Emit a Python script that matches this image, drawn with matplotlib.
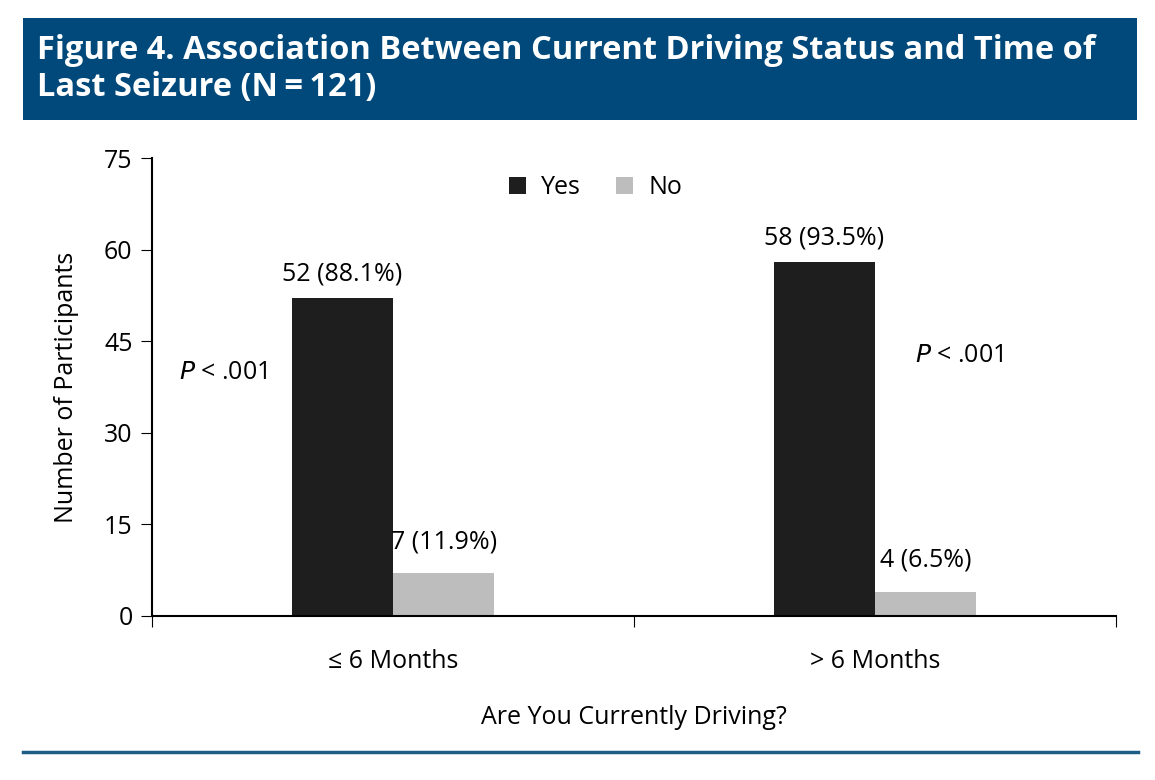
import numpy as np
import matplotlib.pyplot as plt
from matplotlib.patches import Rectangle
from matplotlib.lines import Line2D

plt.rcParams['font.family'] = ['Open Sans', 'DejaVu Sans']

# Data
groups = ['\u2264 6 Months', '> 6 Months']
yes_counts = [52, 58]
no_counts = [7, 4]
yes_labels = ['52 (88.1%)', '58 (93.5%)']
no_labels = ['7 (11.9%)', '4 (6.5%)']
p_texts = ['.001', '.001']
p_y = [39.8, 42.7]

fs = 18

fig = plt.figure(figsize=(11.55, 7.8), dpi=100)

# Title banner
fig.patches.append(Rectangle((0.0199, 0.846), 0.9645, 0.131, transform=fig.transFigure,
                             facecolor='#00497a', edgecolor='none', zorder=0))
fig.text(0.032, 0.912, 'Figure 4. Association Between Current Driving Status and Time of\nLast Seizure (N\u2009=\u2009121)',
         color='white', fontsize=23.5, fontweight='bold', va='center', ha='left',
         linespacing=1.15)

# bottom rule
fig.lines.append(Line2D([0.0199, 0.9853], [0.036, 0.036], transform=fig.transFigure,
                        color='#1d5c84', linewidth=2.5))

ax = fig.add_axes([0.1316, 0.2103, 0.8346, 0.5871])
x = np.array([0.5, 1.5])
w = 0.21
ax.bar(x - w / 2, yes_counts, w, color='#1e1e1e', label='Yes')
ax.bar(x + w / 2, no_counts, w, color='#bdbdbd', label='No')

for i in range(2):
    ax.text(x[i] - w / 2, yes_counts[i] + 1.9, yes_labels[i], ha='center', va='bottom', fontsize=fs)
    ax.text(x[i] + w / 2, no_counts[i] + 3.1, no_labels[i], ha='center', va='bottom', fontsize=fs)

ax.text(0.147, p_y[0], r'$\it{P}$' + ' < ' + p_texts[0], ha='center', va='center', fontsize=fs)
ax.text(1.674, p_y[1], r'$\it{P}$' + ' < ' + p_texts[1], ha='center', va='center', fontsize=fs)

ax.set_xlim(0, 2)
ax.set_ylim(0, 75)
ax.set_yticks([0, 15, 30, 45, 60, 75])
ax.set_xticks([0, 1, 2])
ax.set_xticklabels([])
ax.set_xticks(x, minor=True)
ax.set_xticklabels(groups, minor=True, fontsize=fs)
ax.tick_params(axis='x', which='minor', length=0, pad=24)
ax.tick_params(axis='x', which='major', length=8, direction='out')
ax.tick_params(axis='y', length=8, labelsize=fs, pad=6)

for s in ['top', 'right']:
    ax.spines[s].set_visible(False)
ax.spines['left'].set_linewidth(1.5)
ax.spines['bottom'].set_linewidth(1.5)

ax.set_ylabel('Number of Participants', fontsize=fs, labelpad=18)
ax.set_xlabel('Are You Currently Driving?', fontsize=fs, labelpad=22)

ax.legend(loc='upper center', bbox_to_anchor=(0.46, 1.012), ncol=2, frameon=False, fontsize=fs,
          handlelength=0.7, handleheight=0.7, columnspacing=1.4, handletextpad=0.6)

fig.savefig('out.png', dpi=100)
